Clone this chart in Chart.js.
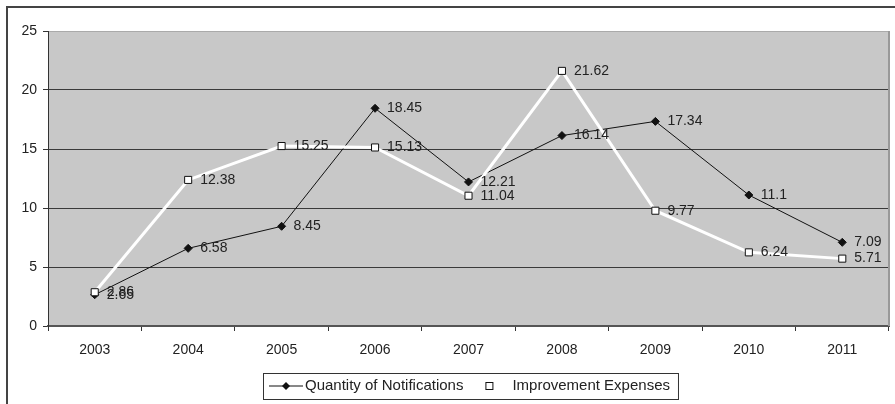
<!DOCTYPE html>
<html>
<head>
<meta charset="utf-8">
<script src="https://cdn.jsdelivr.net/npm/chart.js@4/dist/chart.umd.min.js"></script>
<style>
  html, body { margin: 0; padding: 0; background: #fff; }
  #wrap { width: 895px; height: 404px; position: relative; }
</style>
</head>
<body>
<div id="wrap"><canvas id="c"></canvas></div>
<script>
// Yearly figures
const years = ['2003', '2004', '2005', '2006', '2007', '2008', '2009', '2010', '2011'];
const notifications = [2.65, 6.58, 8.45, 18.45, 12.21, 16.14, 17.34, 11.1, 7.09];
const expenses = [2.86, 12.38, 15.25, 15.13, 11.04, 21.62, 9.77, 6.24, 5.71];
const yTicks = [0, 5, 10, 15, 20, 25];
const seriesNames = ['Quantity of Notifications', 'Improvement Expenses'];

const FONT = '"Liberation Sans", Arial, sans-serif';
const TEXT = '#222';

// Page frame, plot background and plot borders
const framePlugin = {
  id: 'frame',
  beforeDraw(chart) {
    const { ctx, chartArea: a } = chart;
    ctx.save();
    ctx.fillStyle = '#fff';
    ctx.fillRect(0, 0, chart.width, chart.height);
    ctx.strokeStyle = '#444';
    ctx.lineWidth = 2;
    ctx.strokeRect(7, 7, chart.width + 10, chart.height + 10);
    ctx.fillStyle = '#c8c8c8';
    ctx.fillRect(a.left, a.top, a.right - a.left, a.bottom - a.top);
    ctx.restore();
  },
  afterDraw(chart) {
    const { ctx, chartArea: a } = chart;
    ctx.save();
    ctx.strokeStyle = '#999';
    ctx.lineWidth = 2;
    ctx.beginPath();
    ctx.moveTo(a.right, a.top);
    ctx.lineTo(a.right, a.bottom);
    ctx.stroke();
    ctx.restore();
  }
};

// Value labels to the right of each point
const valueLabels = {
  id: 'valueLabels',
  afterDatasetsDraw(chart) {
    const { ctx } = chart;
    ctx.save();
    ctx.font = '14px ' + FONT;
    ctx.fillStyle = TEXT;
    ctx.textAlign = 'left';
    ctx.textBaseline = 'middle';
    chart.data.datasets.forEach((ds, i) => {
      const meta = chart.getDatasetMeta(i);
      meta.data.forEach((pt, j) => {
        ctx.fillText(String(ds.data[j]), pt.x + 12, pt.y);
      });
    });
    ctx.restore();
  }
};

// Boxed legend under the axis
const boxLegend = {
  id: 'boxLegend',
  afterDraw(chart) {
    const { ctx } = chart;
    const ds = chart.data.datasets;
    ctx.save();
    ctx.font = '15px ' + FONT;
    const top = 373, h = 26, left = 263;
    const cy = top + h / 2;
    // first entry: line with diamond
    ctx.strokeStyle = '#111';
    ctx.lineWidth = 1;
    ctx.beginPath();
    ctx.moveTo(269, cy); ctx.lineTo(303, cy); ctx.stroke();
    ctx.fillStyle = '#111';
    ctx.beginPath();
    ctx.moveTo(286, cy - 4); ctx.lineTo(290, cy); ctx.lineTo(286, cy + 4); ctx.lineTo(282, cy);
    ctx.closePath(); ctx.fill();
    ctx.fillStyle = TEXT;
    ctx.textAlign = 'left';
    ctx.textBaseline = 'middle';
    const t1x = 305;
    ctx.fillText(ds[0].label, t1x, cy);
    const t1w = ctx.measureText(ds[0].label).width;
    // second entry: hollow square
    const mx = t1x + t1w + 26;
    ctx.fillStyle = '#fff';
    ctx.strokeStyle = '#111';
    ctx.lineWidth = 1;
    ctx.fillRect(mx - 3, cy - 3, 6, 6);
    ctx.strokeRect(mx - 3.5, cy - 3.5, 7, 7);
    const t2x = mx + 23;
    ctx.fillStyle = TEXT;
    ctx.fillText(ds[1].label, t2x, cy);
    const t2w = ctx.measureText(ds[1].label).width;
    ctx.strokeStyle = '#333';
    ctx.lineWidth = 1;
    ctx.strokeRect(left + 0.5, top + 0.5, t2x + t2w + 8 - left, h);
    ctx.restore();
  }
};

new Chart(document.getElementById('c'), {
  type: 'line',
  data: {
    labels: years,
    datasets: [
      {
        label: seriesNames[0],
        data: notifications,
        borderColor: '#111',
        borderWidth: 1,
        pointStyle: 'rectRot',
        pointRadius: 4,
        pointBackgroundColor: '#111',
        pointBorderColor: '#111',
        pointBorderWidth: 1,
        tension: 0,
        order: 1
      },
      {
        label: seriesNames[1],
        data: expenses,
        borderColor: '#fff',
        borderWidth: 3,
        pointStyle: 'rect',
        pointRadius: 5,
        pointBackgroundColor: '#fff',
        pointBorderColor: '#111',
        pointBorderWidth: 1,
        tension: 0,
        order: 0
      }
    ]
  },
  options: {
    responsive: true,
    maintainAspectRatio: false,
    animation: false,
    devicePixelRatio: 1,
    layout: { padding: { left: 0, top: 31, right: 5, bottom: 48 } },
    plugins: {
      legend: { display: false },
      tooltip: { enabled: false },
      title: { display: false }
    },
    scales: {
      x: {
        type: 'category',
        offset: true,
        grid: {
          offset: true,
          drawOnChartArea: false,
          drawTicks: true,
          tickLength: 5,
          color: '#333'
        },
        border: { color: '#555', width: 2 },
        ticks: {
          font: { family: FONT, size: 14 },
          color: TEXT,
          padding: 11,
          maxRotation: 0
        },
        afterFit(scale) { scale.height = 30; }
      },
      y: {
        min: 0,
        max: 25,
        afterBuildTicks(scale) { scale.ticks = yTicks.map(v => ({ value: v })); },
        grid: {
          color: ctx => (ctx.tick && ctx.tick.value === 25 ? '#aaa' : '#3a3a3a'),
          tickColor: '#333',
          drawTicks: true,
          tickLength: 5,
          lineWidth: 1
        },
        border: { color: '#333', width: 1 },
        ticks: {
          font: { family: FONT, size: 14 },
          color: TEXT,
          padding: 6
        },
        afterFit(scale) { scale.width = 48; }
      }
    }
  },
  plugins: [framePlugin, valueLabels, boxLegend]
});
</script>
</body>
</html>
